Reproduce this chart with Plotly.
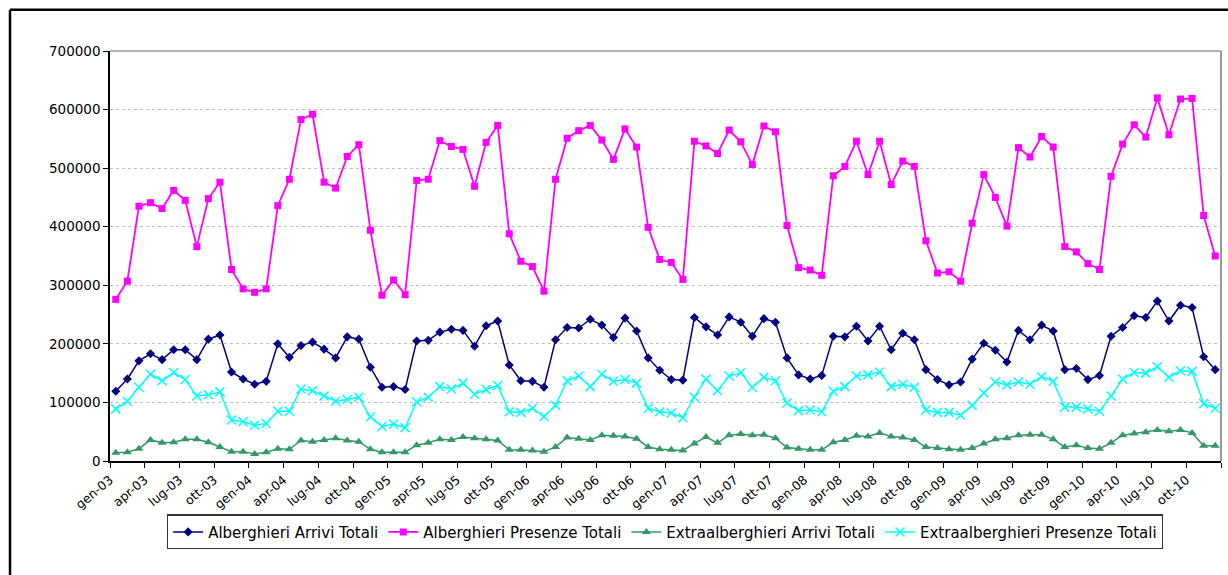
import plotly.graph_objects as go

months_it = ["gen", "feb", "mar", "apr", "mag", "giu", "lug", "ago", "set", "ott", "nov", "dic"]
years = ["03", "04", "05", "06", "07", "08", "09", "10"]
categories = [f"{m}-{y}" for y in years for m in months_it]

alb_arrivi = [
    119000, 140000, 171000, 183000, 173000, 190000, 190000, 173000, 208000, 215000, 152000, 140000,
    131000, 136000, 200000, 177000, 197000, 203000, 191000, 176000, 212000, 208000, 160000, 126000,
    127000, 122000, 205000, 206000, 220000, 225000, 223000, 196000, 231000, 239000, 164000, 137000,
    136000, 126000, 207000, 228000, 227000, 242000, 232000, 211000, 244000, 222000, 176000, 155000,
    139000, 138000, 245000, 229000, 215000, 246000, 237000, 213000, 243000, 237000, 176000, 147000,
    140000, 146000, 213000, 212000, 230000, 205000, 230000, 190000, 218000, 207000, 156000, 139000,
    130000, 135000, 174000, 201000, 189000, 169000, 223000, 207000, 232000, 222000, 156000, 158000,
    139000, 146000, 213000, 228000, 248000, 245000, 273000, 239000, 266000, 262000, 178000, 156000,
]

alb_presenze = [
    276000, 307000, 435000, 441000, 431000, 462000, 445000, 366000, 448000, 476000, 327000, 294000,
    288000, 294000, 436000, 481000, 583000, 592000, 476000, 466000, 520000, 540000, 394000, 283000,
    309000, 284000, 479000, 481000, 547000, 537000, 532000, 469000, 544000, 573000, 388000, 341000,
    332000, 290000, 481000, 551000, 564000, 573000, 548000, 515000, 567000, 536000, 399000, 344000,
    339000, 310000, 546000, 538000, 525000, 565000, 545000, 506000, 572000, 562000, 402000, 330000,
    326000, 317000, 487000, 503000, 546000, 489000, 546000, 472000, 512000, 503000, 376000, 321000,
    323000, 307000, 406000, 489000, 450000, 401000, 535000, 519000, 554000, 536000, 366000, 357000,
    337000, 327000, 486000, 541000, 574000, 553000, 620000, 557000, 618000, 619000, 419000, 350000,
]

extra_arrivi = [
    14000, 15000, 21000, 36000, 31000, 32000, 37000, 37000, 32000, 24000, 16000, 16000,
    12000, 15000, 21000, 20000, 35000, 33000, 36000, 39000, 35000, 33000, 20000, 15000,
    15000, 15000, 27000, 31000, 37000, 36000, 41000, 39000, 37000, 35000, 19000, 19000,
    18000, 16000, 24000, 40000, 38000, 36000, 44000, 43000, 42000, 38000, 24000, 20000,
    19000, 18000, 30000, 41000, 31000, 44000, 46000, 44000, 45000, 39000, 23000, 21000,
    19000, 19000, 32000, 36000, 43000, 42000, 48000, 42000, 40000, 36000, 24000, 22000,
    20000, 19000, 22000, 30000, 37000, 39000, 44000, 45000, 45000, 37000, 24000, 27000,
    22000, 21000, 31000, 44000, 47000, 49000, 53000, 51000, 53000, 48000, 26000, 26000,
]

extra_presenze = [
    89000, 102000, 126000, 148000, 137000, 151000, 139000, 111000, 113000, 118000, 70000, 67000,
    61000, 64000, 85000, 85000, 123000, 120000, 111000, 102000, 105000, 109000, 75000, 59000,
    63000, 57000, 101000, 109000, 127000, 123000, 133000, 114000, 122000, 129000, 84000, 83000,
    90000, 76000, 95000, 137000, 145000, 127000, 148000, 136000, 139000, 133000, 90000, 84000,
    82000, 74000, 109000, 140000, 120000, 145000, 151000, 126000, 143000, 137000, 99000, 86000,
    87000, 84000, 119000, 127000, 145000, 147000, 152000, 127000, 131000, 126000, 87000, 83000,
    83000, 78000, 95000, 116000, 135000, 130000, 135000, 131000, 144000, 136000, 92000, 92000,
    89000, 85000, 111000, 140000, 151000, 150000, 161000, 143000, 154000, 153000, 98000, 90000,
]

series_names = [
    "Alberghieri Arrivi Totali",
    "Alberghieri Presenze Totali",
    "Extraalberghieri Arrivi Totali",
    "Extraalberghieri Presenze Totali",
]

xi = list(range(len(categories)))

fig = go.Figure()
fig.add_trace(go.Scatter(
    x=xi, y=alb_arrivi, name=series_names[0], mode="lines+markers",
    line=dict(color="#000080", width=1.5),
    marker=dict(symbol="diamond", size=7, color="#000080"),
))
fig.add_trace(go.Scatter(
    x=xi, y=alb_presenze, name=series_names[1], mode="lines+markers",
    line=dict(color="#FF00FF", width=1.8),
    marker=dict(symbol="square", size=7, color="#FF00FF"),
))
fig.add_trace(go.Scatter(
    x=xi, y=extra_arrivi, name=series_names[2], mode="lines+markers",
    line=dict(color="#339966", width=1.5),
    marker=dict(symbol="triangle-up", size=8, color="#339966"),
))
fig.add_trace(go.Scatter(
    x=xi, y=extra_presenze, name=series_names[3], mode="lines+markers",
    line=dict(color="#00FFFF", width=1.5),
    marker=dict(symbol="x-thin", size=9, color="#00FFFF",
                line=dict(color="#00FFFF", width=1.5)),
))

# ticks at category boundaries every 3 months, labels anchored at boundaries
tick_vals = [i - 0.5 for i in range(0, len(categories) + 1, 3)]
tick_text = [categories[i] if i < len(categories) else "" for i in range(0, len(categories) + 1, 3)]

font_family = "DejaVu Sans"

fig.update_layout(
    width=1228, height=575,
    margin=dict(l=110, r=7, t=51, b=114),
    paper_bgcolor="white", plot_bgcolor="white",
    font=dict(family=font_family, size=12, color="black"),
    showlegend=True,
    legend=dict(
        orientation="h", x=0.4995, xanchor="center", y=-0.1304, yanchor="top",
        bordercolor="#333333", borderwidth=1.2, bgcolor="white",
        font=dict(family=font_family, size=15, color="black"),
        itemwidth=30,
    ),
    xaxis=dict(
        range=[-0.5, len(categories) - 0.5],
        tickmode="array", tickvals=tick_vals, ticktext=tick_text,
        tickangle=-40, ticks="outside", ticklen=5, tickcolor="black", tickwidth=1,
        showline=True, linecolor="black", linewidth=1.5,
        showgrid=False, zeroline=False,
        tickfont=dict(family=font_family, size=12.5, color="black"),
    ),
    yaxis=dict(
        range=[0, 700000], dtick=100000, tickformat="d",
        ticks="outside", ticklen=5, tickcolor="black", tickwidth=1,
        showline=True, linecolor="black", linewidth=1.5,
        showgrid=True, gridcolor="#c0c0c0", griddash="dot", gridwidth=1,
        zeroline=False,
        tickfont=dict(family=font_family, size=13.5, color="black"),
    ),
    shapes=[
        # plot area border (top and right, gray)
        dict(type="line", xref="paper", yref="paper", x0=0, x1=1, y0=1, y1=1,
             line=dict(color="#999999", width=1.5)),
        dict(type="line", xref="paper", yref="paper", x0=1, x1=1, y0=0, y1=1,
             line=dict(color="#999999", width=2)),
        # outer chart frame (black, cut by the picture edges)
        dict(type="line", xref="paper", yref="paper", x0=-0.09, x1=1.02, y0=1.1004, y1=1.1004,
             line=dict(color="black", width=2.5)),
        dict(type="line", xref="paper", yref="paper", x0=-0.09, x1=-0.09, y0=1.1004, y1=-0.35,
             line=dict(color="black", width=2.5)),
    ],
)

fig.write_html(
    "out.html",
    config={"displayModeBar": False},
    post_script="document.body.style.margin='0';document.body.style.overflow='hidden';",
)
